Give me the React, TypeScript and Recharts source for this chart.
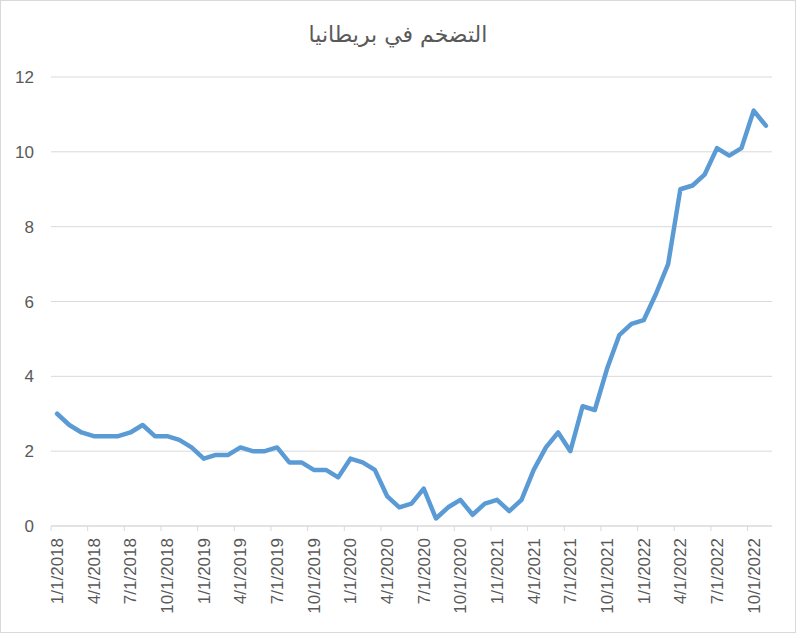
import { LineChart, Line, XAxis, YAxis, CartesianGrid } from 'recharts';

const YEARS = [2018, 2019, 2020, 2021, 2022];

const INFLATION_2018 = [3.0, 2.7, 2.5, 2.4, 2.4, 2.4, 2.5, 2.7, 2.4, 2.4, 2.3, 2.1];
const INFLATION_2019 = [1.8, 1.9, 1.9, 2.1, 2.0, 2.0, 2.1, 1.7, 1.7, 1.5, 1.5, 1.3];
const INFLATION_2020 = [1.8, 1.7, 1.5, 0.8, 0.5, 0.6, 1.0, 0.2, 0.5, 0.7, 0.3, 0.6];
const INFLATION_2021 = [0.7, 0.4, 0.7, 1.5, 2.1, 2.5, 2.0, 3.2, 3.1, 4.2, 5.1, 5.4];
const INFLATION_2022 = [5.5, 6.2, 7.0, 9.0, 9.1, 9.4, 10.1, 9.9, 10.1, 11.1, 10.7];

const Y_TICKS = [0, 2, 4, 6, 8, 10, 12];
const TITLE = 'التضخم في بريطانيا';

const byYear = [INFLATION_2018, INFLATION_2019, INFLATION_2020, INFLATION_2021, INFLATION_2022];

const data = byYear.flatMap((values, y) =>
  values.map((v, m) => ({ date: `${m + 1}/1/${YEARS[y]}`, value: v }))
);

const WIDTH = 796;
const HEIGHT = 633;
const LEFT = 51;
const RIGHT = 24;
const TOP = 77;
const BOTTOM = 107;
const BAND = (WIDTH - LEFT - RIGHT) / data.length;

const TEXT = '#595959';
const GRID = '#d9d9d9';
const FONT = '"Liberation Sans", Arial, sans-serif';

function DateTick(props: any) {
  const { x, y, payload } = props;
  const bx = x - BAND / 2;
  return (
    <g>
      <line x1={bx} y1={y} x2={bx} y2={y + 5} stroke={GRID} strokeWidth={1} />
      <text
        x={x}
        y={y + 12}
        dy="0.35em"
        textAnchor="end"
        fill={TEXT}
        fontSize={17}
        fontFamily={FONT}
        transform={`rotate(-90, ${x}, ${y + 12})`}
      >
        {payload.value}
      </text>
    </g>
  );
}

export default function App() {
  return (
    <div style={{ position: 'fixed', left: 0, top: 0, width: WIDTH, height: HEIGHT, background: '#fff' }}>
      <div
        style={{
          position: 'absolute',
          left: 0,
          top: 0,
          width: WIDTH,
          height: HEIGHT,
          boxSizing: 'border-box',
          border: `1px solid ${GRID}`,
        }}
      />
      <div
        style={{
          position: 'absolute',
          left: 0,
          top: 21,
          width: WIDTH,
          textAlign: 'center',
          direction: 'rtl',
          fontFamily: '"DejaVu Sans", sans-serif',
          fontSize: 22,
          color: TEXT,
          lineHeight: '28px',
        }}
      >
        {TITLE}
      </div>
      <div style={{ position: 'absolute', left: 0, top: 0 }}>
        <LineChart width={WIDTH} height={HEIGHT} data={data} margin={{ top: TOP, right: RIGHT, left: 0, bottom: 0 }}>
          <CartesianGrid vertical={false} stroke={GRID} strokeDasharray="" />
          <XAxis
            dataKey="date"
            scale="band"
            height={BOTTOM}
            interval={2}
            axisLine={{ stroke: GRID }}
            tickLine={false}
            tickSize={0}
            tickMargin={0}
            tick={<DateTick />}
          />
          <YAxis
            domain={[0, 12]}
            ticks={Y_TICKS}
            width={LEFT}
            axisLine={false}
            tickLine={false}
            tickMargin={11}
            tick={{ fill: TEXT, fontSize: 17, fontFamily: FONT }}
          />
          <Line
            type="linear"
            dataKey="value"
            stroke="#5b9bd5"
            strokeWidth={4.5}
            strokeLinejoin="round"
            strokeLinecap="round"
            dot={false}
            activeDot={false}
            isAnimationActive={false}
          />
        </LineChart>
      </div>
    </div>
  );
}
